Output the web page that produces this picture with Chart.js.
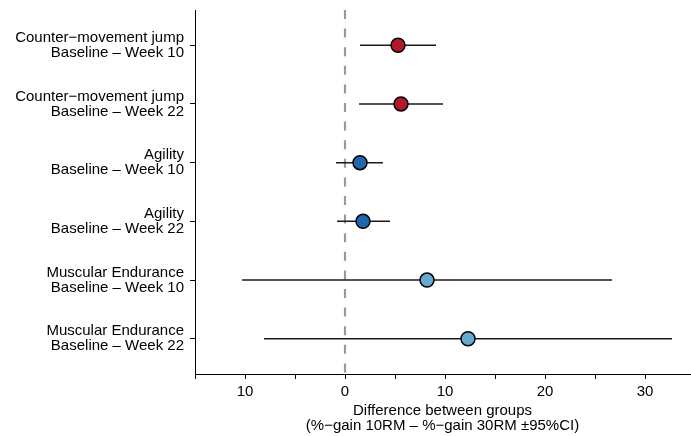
<!DOCTYPE html>
<html>
<head>
<meta charset="utf-8">
<script src="https://cdn.jsdelivr.net/npm/chart.js@4/dist/chart.umd.min.js"></script>
<style>
html,body{margin:0;padding:0;background:#fff;}
#wrap{width:691px;height:436px;}
</style>
</head>
<body>
<div id="wrap"><canvas id="c" width="691" height="436"></canvas></div>
<script>
// ---- data ----
const categories = [
  ["Counter\u2212movement jump", "Baseline \u2013 Week 10"],
  ["Counter\u2212movement jump", "Baseline \u2013 Week 22"],
  ["Agility", "Baseline \u2013 Week 10"],
  ["Agility", "Baseline \u2013 Week 22"],
  ["Muscular Endurance", "Baseline \u2013 Week 10"],
  ["Muscular Endurance", "Baseline \u2013 Week 22"]
];
const estimates = [5.3, 5.6, 1.5, 1.8, 8.2, 12.3];
const lowerCI   = [1.5, 1.4, -0.9, -0.8, -10.3, -8.1];
const upperCI   = [9.1, 9.8, 3.8, 4.5, 26.7, 32.7];
const pointColors = ["#B2182B", "#B2182B", "#2166AC", "#2166AC", "#67A9CF", "#67A9CF"];
const xTickValues = [-10, 0, 10, 20, 30];
const xTickLabels = ["10", "0", "10", "20", "30"];
const xTitle = ["Difference between groups", "(%\u2212gain 10RM \u2013 %\u2212gain 30RM \u00b195%CI)"];

const FONT = "'Liberation Sans', Arial, Helvetica, sans-serif";
const X_MIN = -15, X_MAX = 34.5;

const ciDatasets = categories.map((c, i) => ({
  type: 'line',
  data: [{x: lowerCI[i], y: i}, {x: upperCI[i], y: i}],
  borderColor: '#1a1a1a',
  borderWidth: 1.5,
  pointRadius: 0,
  fill: false,
  order: 1
}));

const zeroLine = {
  type: 'line',
  data: [{x: 0, y: -0.6}, {x: 0, y: 5.6}],
  borderColor: '#999999',
  borderWidth: 2.2,
  borderDash: [9, 9.6],
  pointRadius: 0,
  fill: false,
  order: 2
};

const pointsDataset = {
  type: 'scatter',
  data: estimates.map((v, i) => ({x: v, y: i})),
  backgroundColor: pointColors,
  borderColor: '#000000',
  borderWidth: 1.5,
  pointRadius: 7,
  pointHoverRadius: 7,
  order: 0
};

new Chart(document.getElementById('c'), {
  type: 'scatter',
  data: { datasets: [zeroLine, ...ciDatasets, pointsDataset] },
  options: {
    responsive: false,
    animation: false,
    events: [],
    layout: { autoPadding: false, padding: { top: 10, right: 1, left: 0, bottom: 0 } },
    plugins: { legend: { display: false }, tooltip: { enabled: false } },
    scales: {
      x: {
        type: 'linear',
        min: X_MIN,
        max: X_MAX,
        afterBuildTicks: (s) => { s.ticks = [-15,-10,-5,0,5,10,15,20,25,30,X_MAX].map(v => ({value: v})); },
        afterFit: (s) => { s.paddingLeft = 0; s.paddingRight = 0; s.height = 62; },
        ticks: {
          autoSkip: false,
          maxRotation: 0,
          color: '#000',
          font: { family: FONT, size: 15 },
          padding: 4,
          callback: (v) => { const k = xTickValues.indexOf(v); return k >= 0 ? xTickLabels[k] : ''; }
        },
        grid: {
          drawOnChartArea: false, drawTicks: true, tickLength: 5, color: '#000', lineWidth: 1,
          tickColor: (ctx) => (ctx.tick && ctx.tick.value === X_MAX) ? 'rgba(0,0,0,0)' : '#000'
        },
        border: { display: true, color: '#000', width: 1 },
        title: {
          display: true,
          text: xTitle,
          color: '#000',
          font: { family: FONT, size: 15, lineHeight: 1.0 },
          padding: { top: 2, bottom: 3 }
        }
      },
      y: {
        type: 'linear',
        min: -0.6,
        max: 5.6,
        reverse: true,
        afterBuildTicks: (s) => { s.ticks = categories.map((c, i) => ({value: i})); },
        afterFit: (s) => { s.width = 195; s.paddingTop = 0; s.paddingBottom = 0; },
        ticks: {
          autoSkip: false,
          color: '#000',
          font: { family: FONT, size: 15, lineHeight: 1.0 },
          padding: 6,
          callback: (v) => categories[v]
        },
        grid: { drawOnChartArea: false, drawTicks: true, tickLength: 5, color: '#000', tickColor: '#000', lineWidth: 1 },
        border: { display: true, color: '#000', width: 1 }
      }
    }
  }
});
</script>
</body>
</html>
